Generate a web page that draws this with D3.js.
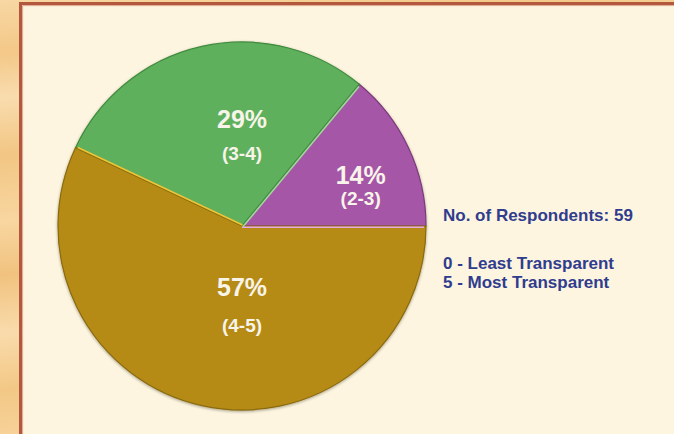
<!DOCTYPE html>
<html>
<head>
<meta charset="utf-8">
<script src="https://cdn.jsdelivr.net/npm/d3@7"></script>
<style>
  html, body { margin: 0; padding: 0; background: #f6cd90; overflow: hidden; }
  svg { display: block; }
</style>
</head>
<body>
<svg id="chart" width="674" height="434"></svg>
<script>
// Survey result: transparency rating ranges and the share of respondents in each
const ranges = ["(2-3)", "(3-4)", "(4-5)"];
const shares = [14, 29, 57];
const sliceColors = ["#a656a6", "#5fb05b", "#b58b16"];
const sliceEdges = ["#7a3a7c", "#3f8a3e", "#8a6a0c"];
const sliceHighlights = ["#e7a8e6", "#9fd89a", "#f0c437"];
const legendLines = ["No. of Respondents: 59", "0 - Least Transparent", "5 - Most Transparent"];

const W = 674, H = 434;
const svg = d3.select("#chart");
const defs = svg.append("defs");

// Warm textured backdrop with soft diagonal streaks
const bgGrad = defs.append("linearGradient").attr("id", "bg")
  .attr("x1", "0").attr("y1", "0").attr("x2", "0.15").attr("y2", "1");
[[0, "#f8d7a3"], [0.12, "#f3c888"], [0.22, "#f9dcae"], [0.35, "#f2c684"],
 [0.5, "#f8d6a0"], [0.62, "#f1c27f"], [0.75, "#f9dbab"], [0.88, "#f3c886"], [1, "#f7d39c"]]
  .forEach(([o, c]) => bgGrad.append("stop").attr("offset", o).attr("stop-color", c));
svg.append("rect").attr("width", W).attr("height", H).attr("fill", "url(#bg)");

// Cream panel with a brick-red frame on its top and left
svg.append("rect")
  .attr("x", 20).attr("y", 3).attr("width", W - 20).attr("height", H - 3)
  .attr("fill", "#fdf5df");
svg.append("path")
  .attr("d", `M20.5,${H} V3.5 H${W}`)
  .attr("fill", "none").attr("stroke", "#b2583f").attr("stroke-width", 3);
svg.append("path")
  .attr("d", `M22.6,${H} V5.6 H${W}`)
  .attr("fill", "none").attr("stroke", "#d9907a").attr("stroke-width", 0.8);

// Pie
const cx = 242, cy = 226, R = 184;
const g = svg.append("g").attr("transform", `translate(${cx},${cy})`);

const pie = d3.pie().sort(null)
  .startAngle(Math.PI / 2)
  .endAngle(Math.PI / 2 - 2 * Math.PI);
const arcs = pie(shares);
const arc = d3.arc().innerRadius(0).outerRadius(R);

// soft shadow under the disc
const shadow = defs.append("filter").attr("id", "shadow")
  .attr("x", "-10%").attr("y", "-10%").attr("width", "120%").attr("height", "120%");
shadow.append("feGaussianBlur").attr("in", "SourceAlpha").attr("stdDeviation", 1.5);
shadow.append("feOffset").attr("dx", 0).attr("dy", 1).attr("result", "b");
shadow.append("feComponentTransfer").append("feFuncA").attr("type", "linear").attr("slope", 0.35);
const merge = shadow.append("feMerge");
merge.append("feMergeNode");
merge.append("feMergeNode").attr("in", "SourceGraphic");

const slices = g.append("g").attr("filter", "url(#shadow)");
slices.selectAll("path.slice")
  .data(arcs)
  .join("path")
  .attr("class", "slice")
  .attr("d", arc)
  .attr("fill", (d, i) => sliceColors[i])
  .attr("stroke", (d, i) => sliceEdges[i])
  .attr("stroke-width", 1.2)
  .attr("stroke-linejoin", "round");

// bevel highlight along each slice's leading radial edge
slices.selectAll("line.hi")
  .data(arcs)
  .join("line")
  .attr("class", "hi")
  .attr("x1", 0).attr("y1", 0)
  .attr("x2", d => (R - 2) * Math.sin(d.startAngle))
  .attr("y2", d => -(R - 2) * Math.cos(d.startAngle))
  .attr("stroke", (d, i) => sliceHighlights[i])
  .attr("stroke-width", 1.6)
  .attr("transform", d => {
    const a = d.startAngle - Math.PI / 2;
    const nx = Math.sin(a) * 1.2, ny = -Math.cos(a) * 1.2;
    return `translate(${-nx},${-ny})`;
  });

// Slice labels
const labelFrac = [[0.645, -0.23], [0, -0.535], [0, 0.38]];
const subGap = [21, 32, 36];
const labels = g.selectAll("g.lbl")
  .data(arcs)
  .join("g")
  .attr("class", "lbl")
  .attr("transform", (d, i) => `translate(${labelFrac[i][0] * R},${labelFrac[i][1] * R})`)
  .attr("font-family", "'Liberation Sans', Arial, sans-serif")
  .attr("text-anchor", "middle")
  .attr("fill", "#f8f4ea");
labels.append("text")
  .attr("font-size", 25).attr("font-weight", "bold")
  .attr("y", 0)
  .text(d => d.data + "%");
labels.append("text")
  .attr("font-size", 19).attr("font-weight", "bold")
  .attr("y", (d, i) => subGap[i])
  .text((d, i) => ranges[i]);

// Legend
const legendY = [221, 269, 288];
svg.append("g")
  .attr("font-family", "'Liberation Sans', Arial, sans-serif")
  .attr("font-size", 17).attr("font-weight", "bold")
  .attr("fill", "#303c8e")
  .selectAll("text")
  .data(legendLines)
  .join("text")
  .attr("x", 443)
  .attr("y", (d, i) => legendY[i])
  .text(d => d);
</script>
</body>
</html>
